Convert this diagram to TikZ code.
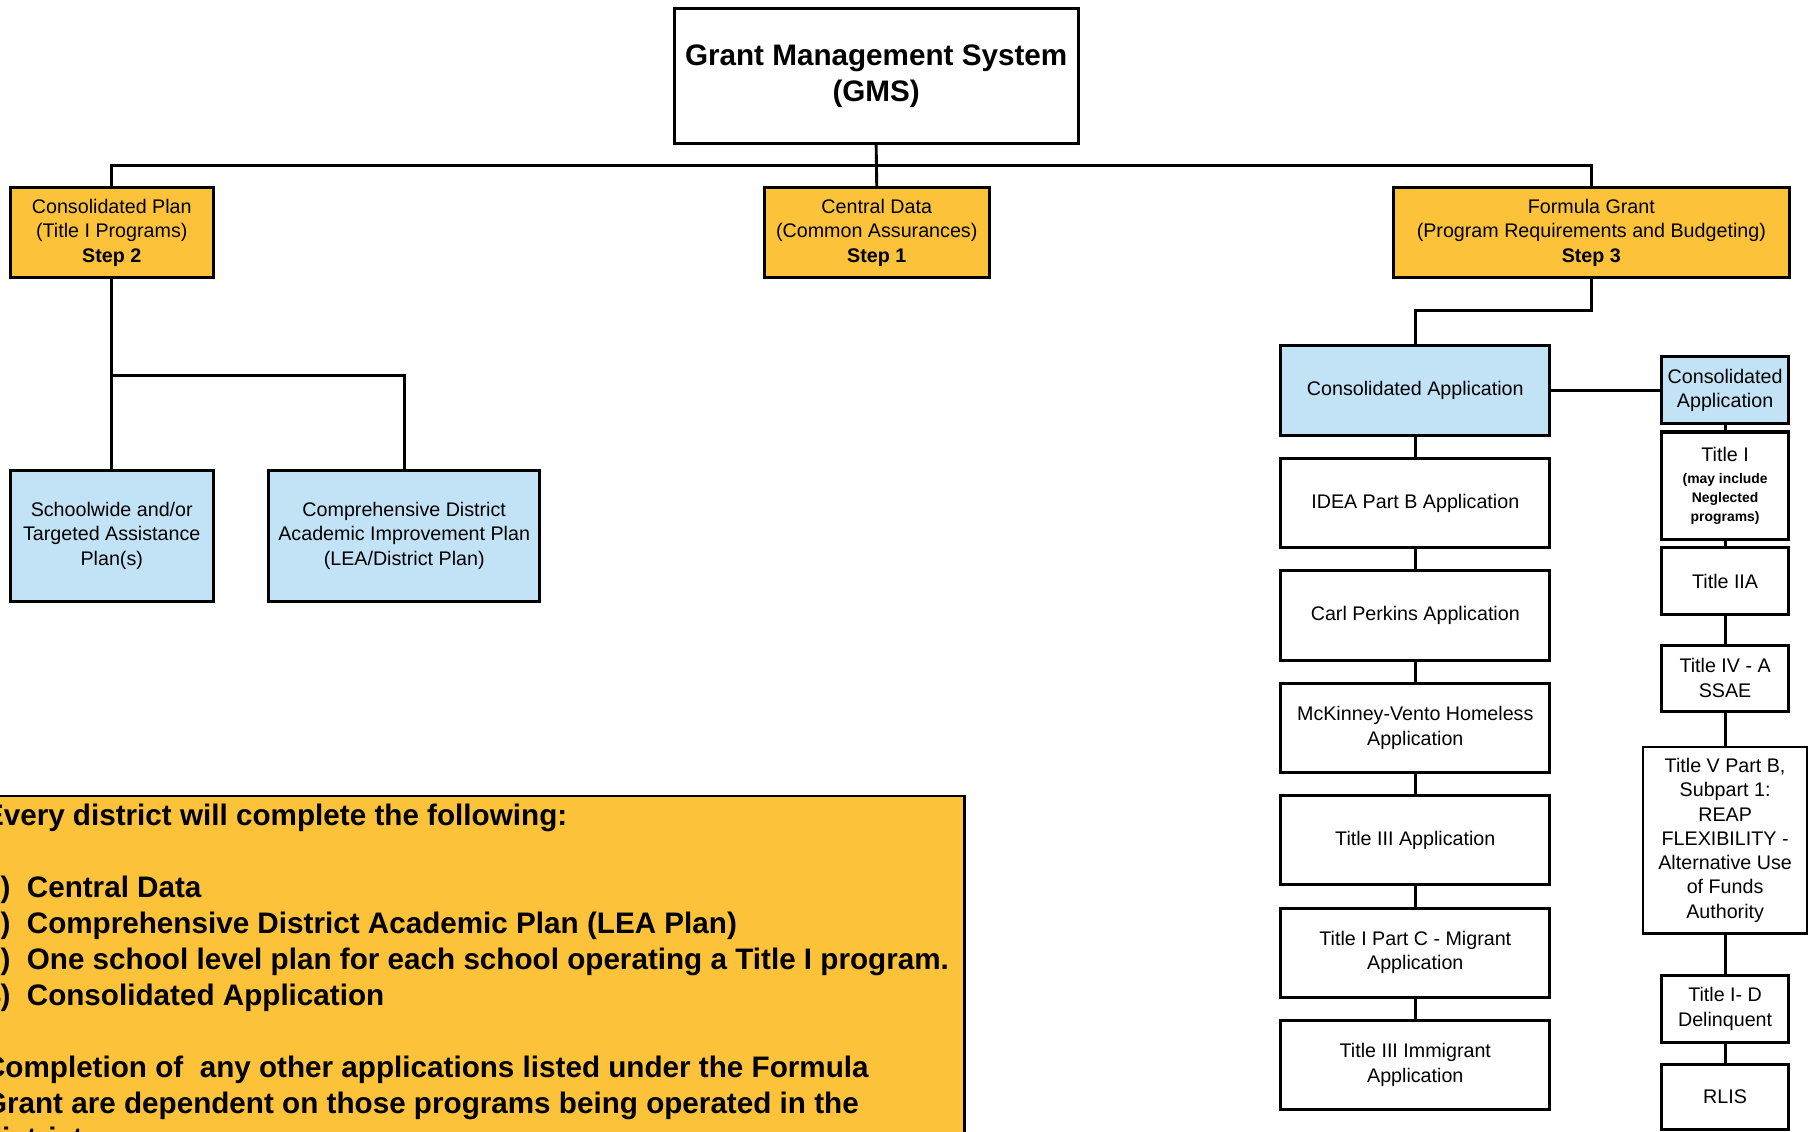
\documentclass[tikz,border=0pt]{standalone}
\usepackage{fontspec}
\setmainfont{Liberation Sans}
\definecolor{gy}{HTML}{FBC23A}
\definecolor{gb}{HTML}{C2E3F6}
\tikzset{
  bx/.style={draw=black, line width=2.6pt, inner sep=0pt, align=center, font=\fontsize{17}{21}\selectfont},
  ybox/.style={bx, fill=gy},
  bbox/.style={bx, fill=gb},
  wbox/.style={bx, fill=white},
  conn/.style={draw=black, line width=2.5pt},
  bt/.style={inner sep=0pt, anchor=base west, font=\bfseries\fontsize{25.6}{31}\selectfont}
}
\begin{document}
\begin{tikzpicture}[x=1pt,y=-1pt]
\useasboundingbox (0,0) rectangle (1568,977);
\clip (0,0) rectangle (1568,977);
\fill[white] (0,0) rectangle (1568,977);

% top
\node[wbox, minimum width=349pt, minimum height=117pt, font=\bfseries\fontsize{25.6}{31}\selectfont] (gms) at (756.5,65.5) {Grant Management System\\(GMS)};
\node[ybox, minimum width=175pt, minimum height=78pt] (cplan) at (96.5,201) {Consolidated Plan\\(Title I Programs)\\\textbf{Step 2}};
\node[ybox, minimum width=194pt, minimum height=78pt] (cdata) at (757,201) {Central Data\\(Common Assurances)\\\textbf{Step 1}};
\node[ybox, minimum width=342pt, minimum height=78pt] (fgrant) at (1374,201) {Formula Grant\\(Program Requirements and Budgeting)\\\textbf{Step 3}};

% left branch
\node[bbox, minimum width=175pt, minimum height=113pt] (school) at (96.5,462.5) {Schoolwide and/or\\Targeted Assistance\\Plan(s)};
\node[bbox, minimum width=234pt, minimum height=113pt] (comp) at (349,462.5) {Comprehensive District\\Academic Improvement Plan\\(LEA/District Plan)};

% middle chain
\node[bbox, minimum width=232pt, minimum height=78pt] (capp) at (1222,337) {Consolidated Application};
\node[wbox, minimum width=232pt, minimum height=77pt] (idea) at (1222,434.5) {IDEA Part B Application};
\node[wbox, minimum width=232pt, minimum height=77pt] (carl) at (1222,531.5) {Carl Perkins Application};
\node[wbox, minimum width=232pt, minimum height=77pt] (mck) at (1222,628.5) {McKinney-Vento Homeless\\Application};
\node[wbox, minimum width=232pt, minimum height=77pt] (t3) at (1222,725.5) {Title III Application};
\node[wbox, minimum width=232pt, minimum height=77pt] (t1c) at (1222,822.5) {Title I Part C - Migrant\\Application};
\node[wbox, minimum width=232pt, minimum height=77pt] (t3i) at (1222,919.5) {Title III Immigrant\\Application};

% right chain
\node[bbox, minimum width=109pt, minimum height=58pt] (scapp) at (1489.5,337) {Consolidated\\Application};
\node[wbox, minimum width=109pt, minimum height=93pt, font=\bfseries\fontsize{12}{16}\selectfont] (t1) at (1489.5,419.5) {{\mdseries\fontsize{17}{21}\selectfont Title I}\\[3pt](may include\\Neglected\\programs)};
\node[wbox, minimum width=109pt, minimum height=58pt] (t2a) at (1489.5,502) {Title IIA};
\node[wbox, minimum width=109pt, minimum height=57pt] (t4a) at (1489.5,585.5) {Title IV - A\\SSAE};
\node[wbox, line width=2pt, minimum width=142pt, minimum height=161pt] (t5) at (1489.5,725.5) {Title V Part B,\\Subpart 1:\\REAP\\FLEXIBILITY -\\Alternative Use\\of Funds\\Authority};
\node[wbox, minimum width=109pt, minimum height=58pt] (t1d) at (1489.5,871) {Title I- D\\Delinquent};
\node[wbox, minimum width=109pt, minimum height=56pt] (rlis) at (1489.5,947) {RLIS};

% connectors
\coordinate (bus) at (757,143);
\coordinate (br1) at (96.5,324);
\coordinate (br2) at (1300,268);
\draw[conn] (gms.south) -- (cdata.north);
\draw[conn] (cplan.north) |- (bus) -| (fgrant.north);
\draw[conn] (cplan.south) -- (school.north);
\draw[conn] (br1) -| (comp.north);
\draw[conn] (fgrant.south) |- (br2) -| (capp.north);
\draw[conn] (capp.south) -- (idea.north);
\draw[conn] (idea.south) -- (carl.north);
\draw[conn] (carl.south) -- (mck.north);
\draw[conn] (mck.south) -- (t3.north);
\draw[conn] (t3.south) -- (t1c.north);
\draw[conn] (t1c.south) -- (t3i.north);
\draw[conn] (capp.east) -- (scapp.west);
\draw[conn] (scapp.south) -- (t1.north);
\draw[conn] (t1.south) -- (t2a.north);
\draw[conn] (t2a.south) -- (t4a.north);
\draw[conn] (t4a.south) -- (t5.north);
\draw[conn] (t5.south) -- (t1d.north);
\draw[conn] (t1d.south) -- (rlis.north);

% bottom note
\node[draw=black, line width=2.5pt, fill=gy, inner sep=0pt, minimum width=860pt, minimum height=340pt, anchor=north east] (note) at (834,686) {};
\node[bt] (l1) at (-14,713) {Every district will complete the following:};
\node[bt] (l2) at (-14,775) {\makebox[37pt][l]{1)}Central Data};
\node[bt] (l3) at (-14,806) {\makebox[37pt][l]{2)}Comprehensive District Academic Plan (LEA Plan)};
\node[bt] (l4) at (-14,837) {\makebox[37pt][l]{3)}One school level plan for each school operating a Title I program.};
\node[bt] (l5) at (-14,868) {\makebox[37pt][l]{4)}Consolidated Application};
\node[bt] (l6) at (-14,930) {Completion of\ \ any other applications listed under the Formula};
\node[bt] (l7) at (-14,961) {Grant are dependent on those programs being operated in the};
\node[bt] (l8) at (-14,992) {district.};
\end{tikzpicture}
\end{document}
